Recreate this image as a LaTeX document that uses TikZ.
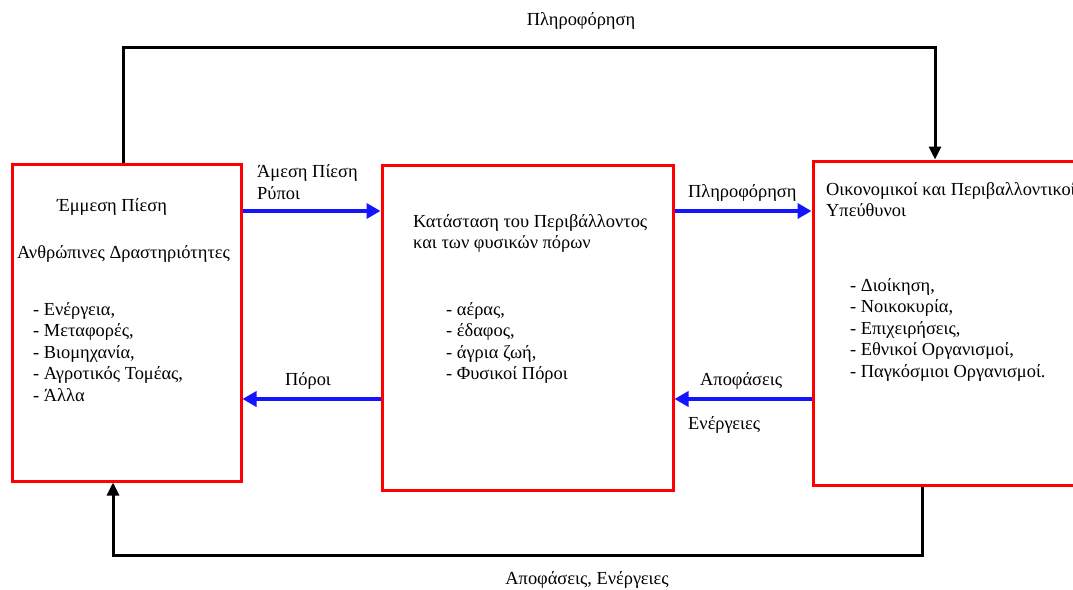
\documentclass[tikz,border=0pt]{standalone}
\usepackage{fontspec}
\setmainfont{Liberation Serif}
\usetikzlibrary{arrows.meta,fit}
\begin{document}
\begin{tikzpicture}[x=1pt,y=-1pt,
  box/.style={draw=red, line width=3pt, inner sep=0pt, rectangle},
  txt/.style={font=\fontsize{18.4}{21.5}\selectfont, inner sep=0pt, align=left},
  barrow/.style={draw={rgb,255:red,20;green,20;blue,255}, line width=3.5pt, -{Triangle[length=14pt,width=15pt]}},
  karrow/.style={draw=black, line width=3pt, -{Triangle[length=13pt,width=12pt]}}]
\path[use as bounding box, clip] (0,0) rectangle (1073,589);
\fill[white] (0,0) rectangle (1073,589);
% boxes
\node[box, fit={(12,164) (241,481)}] (L) {};
\node[box, fit={(382,165) (673,490)}] (M) {};
\node[box, fit={(813,161) (1090,485)}] (R) {};
% coordinates for connectors
\coordinate (yu) at (0,211);
\coordinate (yd) at (0,399);
\coordinate (xt1) at (123,0);
\coordinate (xt2) at (935,0);
\coordinate (top) at (581,47);
\coordinate (xb1) at (922,0);
\coordinate (xb2) at (113,0);
\coordinate (bot) at (587,555);
% blue arrows
\draw[barrow] (L.east |- yu) -- (M.west |- yu);
\draw[barrow] (M.west |- yd) -- (L.east |- yd);
\draw[barrow] (M.east |- yu) -- (R.west |- yu);
\draw[barrow] (R.west |- yd) -- (M.east |- yd);
% black loops
\draw[karrow] (L.north -| xt1) |- (top) -| (R.north -| xt2);
\draw[karrow] (R.south -| xb1) |- (bot) -| (L.south -| xb2);
% labels
\node[txt] (ltop) at (581,21) {Πληροφόρηση};
\node[txt] (lbot) at (587,580) {Αποφάσεις, Ενέργειες};
\node[txt, anchor=west] (lap) at (257,182) {Άμεση Πίεση\\Ρύποι};
\node[txt] (lpo) at (308,381) {Πόροι};
\node[txt, anchor=west] (lpl) at (688,193) {Πληροφόρηση};
\node[txt, anchor=west] (lapo) at (700,381) {Αποφάσεις};
\node[txt, anchor=west] (len) at (688,425) {Ενέργειες};
% left box text
\node[txt] (lt1) at (112,207) {Έμμεση Πίεση};
\node[txt] (lt2) at (123.5,254) {Ανθρώπινες Δραστηριότητες};
\node[txt, anchor=north west] (lt3) at (33,302) {- Ενέργεια,\\- Μεταφορές,\\- Βιομηχανία,\\- Αγροτικός Τομέας,\\- Άλλα};
% middle box text
\node[txt, anchor=north west] (mt1) at (413,214) {Κατάσταση του Περιβάλλοντος\\και των φυσικών πόρων};
\node[txt, anchor=north west] (mt2) at (446,302) {- αέρας,\\- έδαφος,\\- άγρια ζωή,\\- Φυσικοί Πόροι};
% right box text
\node[txt, anchor=north west] (rt1) at (826,182) {Οικονομικοί και Περιβαλλοντικοί\\Υπεύθυνοι};
\node[txt, anchor=north west] (rt2) at (850,278) {- Διοίκηση,\\- Νοικοκυρία,\\- Επιχειρήσεις,\\- Εθνικοί Οργανισμοί,\\- Παγκόσμιοι Οργανισμοί.};
\end{tikzpicture}
\end{document}
